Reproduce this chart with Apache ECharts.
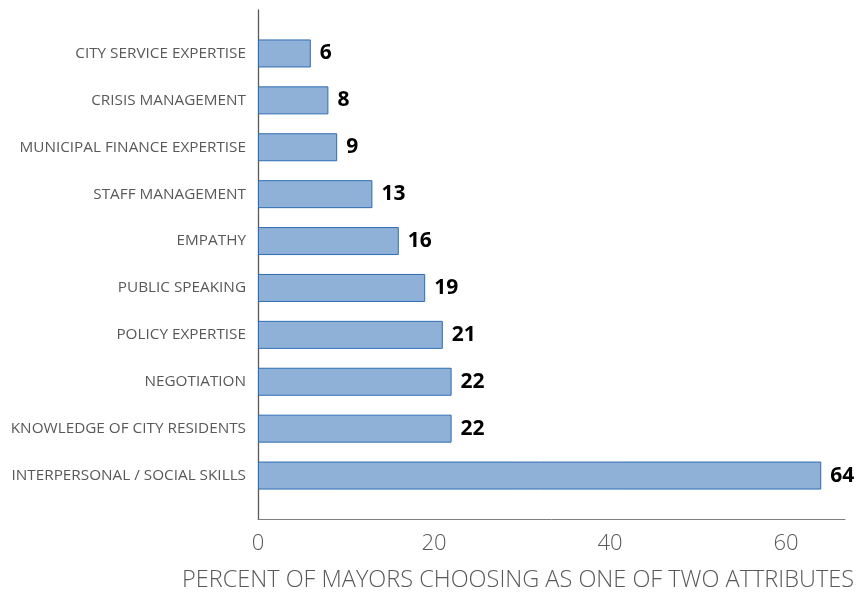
<!DOCTYPE html>
<html>
<head>
<meta charset="utf-8">
<script src="https://cdn.jsdelivr.net/npm/echarts@6/dist/echarts.min.js"></script>
<style>
  html, body { margin: 0; padding: 0; background: #fff; }
  #chart { width: 862px; height: 593px; }
</style>
</head>
<body>
<div id="chart"></div>
<script>
  // 数据
  var categories = [
    'CITY SERVICE EXPERTISE',
    'CRISIS MANAGEMENT',
    'MUNICIPAL FINANCE EXPERTISE',
    'STAFF MANAGEMENT',
    'EMPATHY',
    'PUBLIC SPEAKING',
    'POLICY EXPERTISE',
    'NEGOTIATION',
    'KNOWLEDGE OF CITY RESIDENTS',
    'INTERPERSONAL / SOCIAL SKILLS'
  ];
  var values = [6, 8, 9, 13, 16, 19, 21, 22, 22, 64];
  var xTicks = [0, 20, 40, 60];
  var xTitle = 'PERCENT OF MAYORS CHOOSING AS ONE OF TWO ATTRIBUTES';

  var FONT = '"Open Sans", "Noto Sans", sans-serif';
  var xMax = 66.7;

  var myChart = echarts.init(document.getElementById('chart'));
  myChart.setOption({
    animation: false,
    title: {
      text: xTitle,
      right: 3,
      top: 563,
      textStyle: { fontFamily: FONT, fontSize: 23.5, fontWeight: 300, color: '#595959' }
    },
    grid: [
      // 轴线用的框
      { left: 258, right: 17, top: 10, bottom: 74 },
      // 柱子用的框
      { left: 258, right: 17, top: 30, bottom: 94 }
    ],
    xAxis: [
      {
        gridIndex: 0,
        type: 'value',
        min: 0,
        max: xMax,
        interval: 20,
        splitLine: { show: false },
        axisTick: { show: false },
        axisLine: { show: true, lineStyle: { color: '#7f7f7f', width: 1 } },
        axisLabel: {
          margin: 14,
          fontFamily: FONT,
          fontSize: 22,
          fontWeight: 300,
          color: '#595959',
          formatter: function (v) {
            return xTicks.indexOf(v) >= 0 ? String(v) : '';
          }
        }
      },
      {
        gridIndex: 1,
        type: 'value',
        min: 0,
        max: xMax,
        show: false
      }
    ],
    yAxis: [
      {
        gridIndex: 0,
        type: 'value',
        min: 0,
        max: 1,
        splitLine: { show: false },
        axisTick: { show: false },
        axisLabel: { show: false },
        axisLine: { show: true, lineStyle: { color: '#595959', width: 1.3 } }
      },
      {
        gridIndex: 1,
        type: 'category',
        inverse: true,
        data: categories,
        axisLine: { show: false },
        axisTick: { show: false },
        axisLabel: {
          margin: 12,
          fontFamily: FONT,
          fontSize: 15.3,
          fontWeight: 'normal',
          color: '#595959'
        }
      }
    ],
    series: [{
      type: 'bar',
      xAxisIndex: 1,
      yAxisIndex: 1,
      barWidth: 28,
      data: values,
      itemStyle: {
        color: '#8fb1d8',
        borderColor: '#2e6db4',
        borderWidth: 1
      },
      label: {
        show: true,
        position: 'right',
        distance: 9,
        fontFamily: FONT,
        fontSize: 21,
        fontWeight: 'bold',
        color: '#000'
      }
    }]
  });
</script>
</body>
</html>
